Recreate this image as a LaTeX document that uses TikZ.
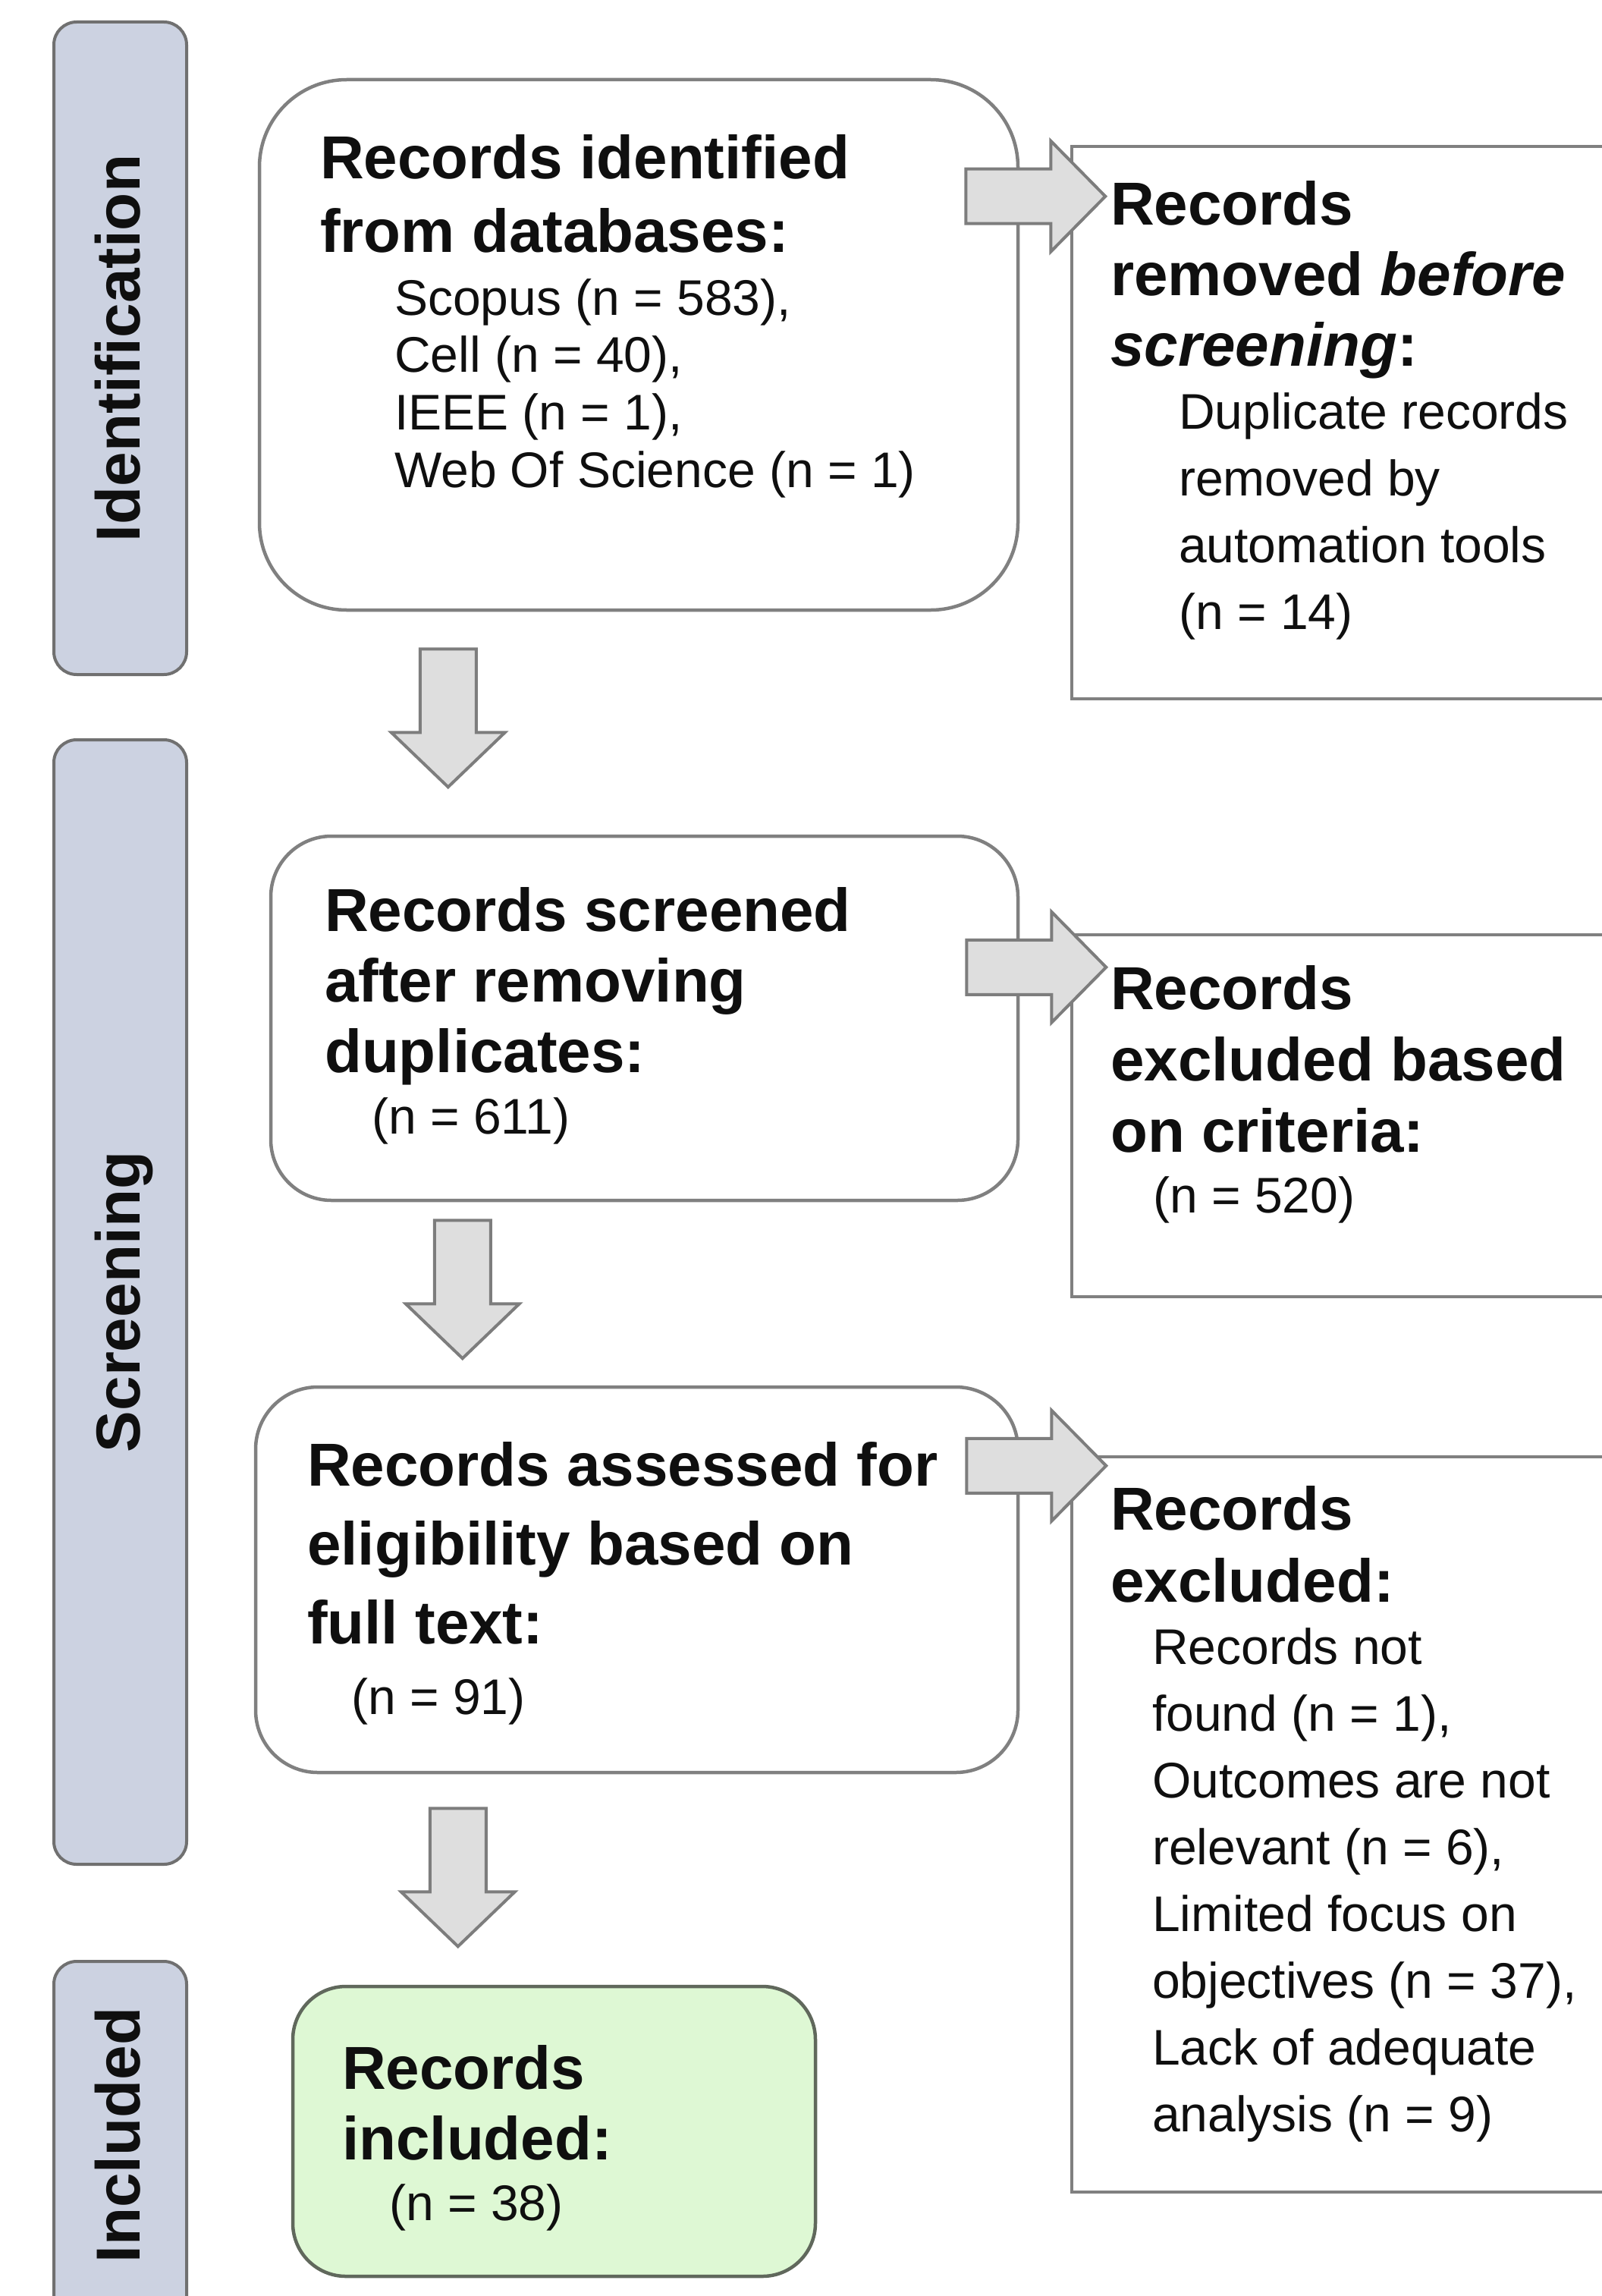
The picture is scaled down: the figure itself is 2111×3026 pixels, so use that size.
\documentclass[tikz,border=0pt]{standalone}
\usepackage{fontspec}
\setmainfont{Liberation Sans}
\usetikzlibrary{calc}
\definecolor{barfill}{RGB}{204,210,225}
\definecolor{barline}{RGB}{112,112,112}
\definecolor{boxline}{RGB}{128,128,128}
\definecolor{arrfill}{RGB}{222,222,222}
\definecolor{arrline}{RGB}{125,125,125}
\definecolor{grnfill}{RGB}{222,248,212}
\definecolor{grnline}{RGB}{96,104,92}
\definecolor{ink}{RGB}{15,15,15}
\newcommand{\hdfont}{\fontsize{80}{95}\selectfont\bfseries}
\newcommand{\rgfont}{\fontsize{66}{88}\selectfont}
\newcommand{\blk}[2]{\vtop{\baselineskip=#1pt\lineskiplimit=-1000pt\lineskip=0pt #2}}
\newcommand{\downfat}[1]{\draw[fat, shift={(#1)}] (-37,0) -- (37,0) -- (37,110) -- (75,110) -- (0,182) -- (-75,110) -- (-37,110) -- cycle;}
\newcommand{\rightfat}[1]{\draw[fat, shift={(#1)}] (0,-36) -- (112,-36) -- (112,-73) -- (184,0) -- (112,73) -- (112,36) -- (0,36) -- cycle;}
\begin{document}
\begin{tikzpicture}[x=1pt,y=-1pt,
  bar/.style={draw=barline, fill=barfill, line width=4pt, rounded corners=30pt, minimum width=175pt, inner sep=0pt},
  wbox/.style={draw=boxline, fill=white, line width=4.5pt, inner sep=0pt},
  gbox/.style={draw=grnline, fill=grnfill, line width=4.5pt, inner sep=0pt},
  fat/.style={draw=arrline, fill=arrfill, line width=4pt, line join=miter},
  lbl/.style={rotate=90, anchor=base, inner sep=0pt, text=ink, font=\fontsize{82}{82}\selectfont\bfseries},
  hd/.style={anchor=base west, inner sep=0pt, text=ink, font=\hdfont},
  rg/.style={anchor=base west, inner sep=0pt, text=ink, font=\rgfont}]
\useasboundingbox (0,0) rectangle (2111,3026);
\fill[white] (0,0) rectangle (2111,3026);

% stage bars
\node[bar, minimum height=860] (sid) at (158.5,459) {};
\node[bar, minimum height=1482] (ssc) at (158.5,1716) {};
\node[bar, minimum height=485] (sin) at (158.5,2827.5) {};
\node[lbl] (lid) at (184,459) {Identification};
\node[lbl] (lsc) at (184,1716) {Screening};
\node[lbl] (lin) at (184,2814) {Included};

% main boxes
\node[wbox, rounded corners=115pt, minimum width=1000, minimum height=699] (b1) at (842,454.5) {};
\node[wbox, rounded corners=80pt, minimum width=985, minimum height=480] (b2) at (849.5,1342) {};
\node[wbox, rounded corners=82pt, minimum width=1005, minimum height=508] (b3) at (839.5,2082) {};
\node[gbox, rounded corners=70pt, minimum width=689, minimum height=382] (b4) at (730.5,2809) {};

% side boxes (cut by the right edge)
\node[wbox, minimum width=727, minimum height=728] (r1) at (1776.5,557) {};
\node[wbox, minimum width=727, minimum height=477] (r2) at (1776.5,1470.5) {};
\node[wbox, minimum width=727, minimum height=969] (r3) at (1776.5,2404.5) {};

% texts
\node[hd] (t1) at (422,236) {\blk{97}{\hbox{Records identified}\hbox{from databases:}}};
\node[rg] (t1d) at (520,415) {\blk{75.7}{\hbox{Scopus (n = 583),}\hbox{Cell (n = 40),}\hbox{IEEE (n = 1),}\hbox{Web Of Science (n = 1)}}};

\node[hd] (t2) at (428,1227) {\blk{93}{\hbox{Records screened}\hbox{after removing}\hbox{duplicates:}}};
\node[rg] (t2d) at (490,1494) {(n = 611)};

\node[hd] (t3) at (405,1958) {\blk{104}{\hbox{Records assessed for}\hbox{eligibility based on}\hbox{full text:}}};
\node[rg] (t3d) at (463,2259) {(n = 91)};

\node[hd] (t4) at (451,2753) {\blk{93}{\hbox{Records}\hbox{included:}}};
\node[rg] (t4d) at (513,2926) {(n = 38)};

\node[hd] (u1) at (1464,297) {\blk{93}{\hbox{Records}\hbox{removed \textit{before}}\hbox{\textit{screening}:}}};
\node[rg] (u1d) at (1554,565) {\blk{88.3}{\hbox{Duplicate records}\hbox{removed by}\hbox{automation tools}\hbox{(n = 14)}}};

\node[hd] (u2) at (1464,1330) {\blk{94}{\hbox{Records}\hbox{excluded based}\hbox{on criteria:}}};
\node[rg] (u2d) at (1520,1598) {(n = 520)};

\node[hd] (u3) at (1464,2016) {\blk{95}{\hbox{Records}\hbox{excluded:}}};
\node[rg] (u3d) at (1519,2193) {\blk{88}{\hbox{Records not}\hbox{found (n = 1),}\hbox{Outcomes are not}\hbox{relevant (n = 6),}\hbox{Limited focus on}\hbox{objectives (n = 37),}\hbox{Lack of adequate}\hbox{analysis (n = 9)}}};

% block arrows
\coordinate (d1) at ($(b1.south west)+(251,49)$);
\coordinate (d2) at ($(b2.south west)+(255,24)$);
\coordinate (d3) at ($(b3.south west)+(269,45)$);
\coordinate (e1) at ($(b1.north east)+(-71,156)$);
\coordinate (e2) at ($(b2.north east)+(-70,175)$);
\coordinate (e3) at ($(b3.north east)+(-70,106)$);
\downfat{d1}
\downfat{d2}
\downfat{d3}
\rightfat{e1}
\rightfat{e2}
\rightfat{e3}
\end{tikzpicture}
\end{document}
